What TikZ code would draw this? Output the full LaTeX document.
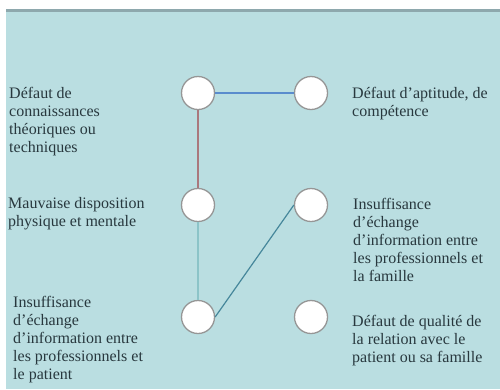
\documentclass[tikz,border=0pt]{standalone}
\usepackage{fontspec}
\setmainfont{Liberation Serif}
\usetikzlibrary{positioning}
\definecolor{panel}{RGB}{186,222,225}
\definecolor{rule}{RGB}{142,168,173}
\definecolor{ink}{RGB}{40,56,62}
\definecolor{ringgray}{RGB}{150,150,150}
\definecolor{lnblue}{RGB}{90,140,205}
\definecolor{lnred}{RGB}{170,120,125}
\definecolor{lnpale}{RGB}{140,196,200}
\definecolor{lnteal}{RGB}{70,135,155}
\begin{document}
\begin{tikzpicture}[x=1pt,y=-1pt,
 dot/.style={circle,draw=ringgray,line width=1.3pt,fill=white,minimum size=33pt,inner sep=0pt},
 lbl/.style={anchor=base west,align=left,inner sep=0pt,text=ink,font=\fontsize{16}{17.8}\selectfont},
 link/.style={line width=1.2pt}]
\useasboundingbox (0,0) rectangle (500,389);
\fill[white] (0,0) rectangle (500,389);
\fill[panel] (6,11) rectangle (500,389);
\fill[rule] (6,9) rectangle (500,12);
% circles
\node[dot] (connais) at (198,93) {};
\node[dot] (aptitude) at (311,93) {};
\node[dot] (dispo) at (198,205) {};
\node[dot] (echfam) at (311,205) {};
\node[dot] (echpat) at (198,317) {};
\node[dot] (relation) at (311,317) {};
% links
\draw[link,lnblue] (connais) -- (aptitude);
\draw[link,lnred] (connais) -- (dispo);
\draw[link,lnpale] (dispo) -- (echpat);
\draw[link,lnteal] (echpat.east) -- (echfam.west);
% labels (placed at the baseline of their last line)
\node[lbl] (tconnais) at (9,152) {Défaut de\\connaissances\\théoriques ou\\techniques};
\node[lbl] (taptitude) at (352,116) {Défaut d’aptitude, de\\compétence};
\node[lbl] (tdispo) at (8,226) {Mauvaise disposition\\physique et mentale};
\node[lbl] (techfam) at (353,281) {Insuffisance\\d’échange\\d’information entre\\les professionnels et\\la famille};
\node[lbl] (techpat) at (13,379) {Insuffisance\\d’échange\\d’information entre\\les professionnels et\\le patient};
\node[lbl] (trelation) at (352,362) {Défaut de qualité de\\la relation avec le\\patient ou sa famille};
\end{tikzpicture}
\end{document}
